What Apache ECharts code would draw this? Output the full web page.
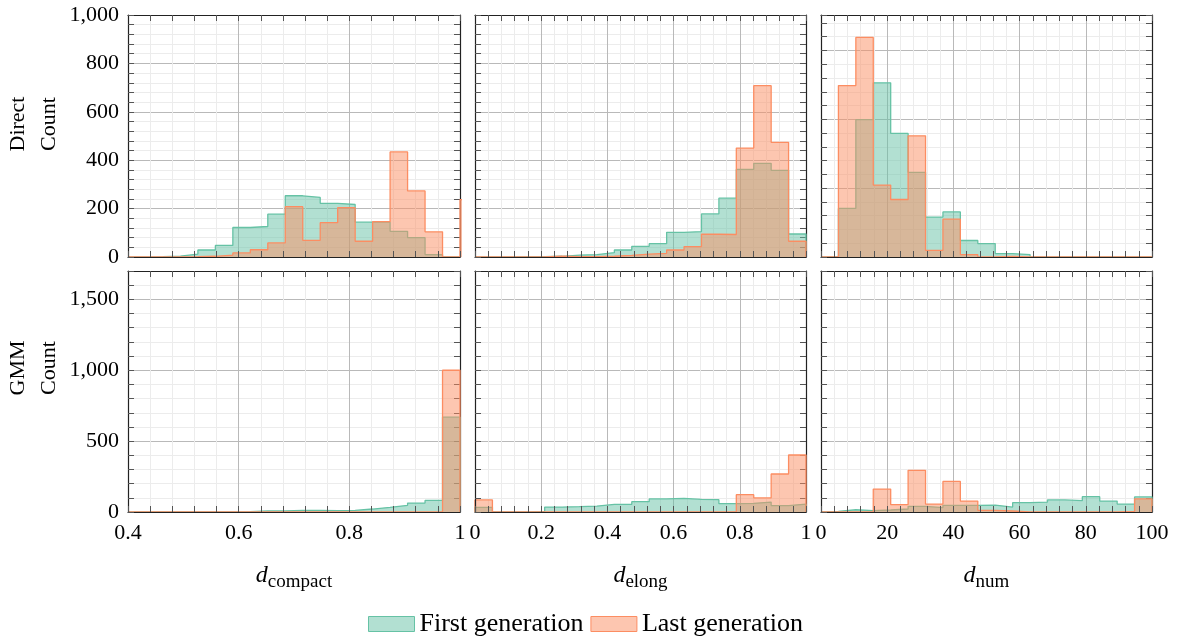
<!DOCTYPE html>
<html>
<head>
<meta charset="utf-8">
<script src="https://cdn.jsdelivr.net/npm/echarts@6/dist/echarts.min.js"></script>
<style>
  html, body { margin: 0; padding: 0; background: #fff; }
  #chart { width: 1178px; height: 641px; }
</style>
</head>
<body>
<div id="chart"></div>
<script>
// Each histogram uses 19 equal-width bins spread over its panel's x range.
const binCount = 19;
const compactRange = [0.4, 1.0];
const elongRange = [0, 1];
const numRange = [0, 100];

// Direct encoding, bin counts (the compact "last" series has one extra bin past 1.0)
const directCompactFirst = [0, 1, 4, 12, 29, 48, 122, 126, 177, 253, 246, 222, 217, 144, 144, 106, 80, 10, 0];
const directCompactLast  = [0, 0, 0, 1, 3, 8, 17, 30, 58, 208, 69, 142, 204, 65, 146, 434, 273, 104, 0, 237];
const directElongFirst   = [0, 0, 1, 1, 3, 8, 10, 18, 29, 44, 55, 102, 105, 178, 243, 362, 387, 358, 95];
const directElongLast    = [0, 0, 0, 0, 3, 1, 1, 3, 7, 12, 15, 29, 43, 94, 93, 450, 708, 474, 65];
const directNumFirst     = [0, 141, 399, 506, 359, 246, 116, 131, 48, 39, 10, 7, 0, 0, 0, 0, 0, 0, 0];
const directNumLast      = [0, 498, 638, 209, 167, 352, 19, 110, 7, 0, 2, 0, 0, 0, 0, 0, 0, 0, 0];

// GMM encoding, bin counts
const gmmCompactFirst = [0, 0, 0, 0, 0, 0, 2, 7, 7, 12, 12, 9, 12, 21, 33, 47, 63, 82, 669];
const gmmCompactLast  = [0, 0, 0, 0, 0, 0, 0, 0, 0, 0, 0, 0, 0, 0, 0, 0, 0, 0, 1000];
const gmmElongFirst   = [33, 0, 0, 5, 35, 38, 42, 54, 54, 73, 92, 96, 89, 87, 59, 61, 70, 45, 56];
const gmmElongLast    = [85, 0, 0, 0, 0, 0, 0, 0, 0, 0, 0, 0, 0, 0, 2, 122, 99, 268, 402];
const gmmNumFirst     = [5, 16, 9, 14, 21, 40, 31, 47, 47, 49, 35, 66, 70, 85, 80, 108, 77, 56, 106];
const gmmNumLast      = [0, 0, 0, 162, 52, 294, 56, 216, 77, 12, 7, 0, 0, 0, 0, 0, 0, 5, 92];

// Axis ticks: [major step, minor step]
const compactTicks = [0.2, 0.04];
const elongTicks = [0.2, 0.04];
const numTicks = [20, 4];
const directCountTicks = [200, 40];
const directNumCountTicks = [200, 40];
const gmmCountTicks = [500, 100];
const directCountMax = 1000;
const directNumCountMax = 703;
const gmmCountMax = 1700;

const seriesNames = ['First generation', 'Last generation'];
const lineColors = ['#66c2a5', '#fc8d62'];
const fillColors = ['rgba(102,194,165,0.5)', 'rgba(252,141,98,0.5)'];

const FONT = '"Liberation Serif", "Times New Roman", serif';

const colLeft = [128, 475, 821];
const colWidth = [332, 331, 331];
const rowTop = [15, 271];
const rowHeight = [242, 241];

const panels = [
  { row: 0, col: 0, range: compactRange, xt: compactTicks, yt: directCountTicks, ymax: directCountMax, first: directCompactFirst, last: directCompactLast },
  { row: 0, col: 1, range: elongRange,   xt: elongTicks,   yt: directCountTicks, ymax: directCountMax, first: directElongFirst,   last: directElongLast },
  { row: 0, col: 2, range: numRange,     xt: numTicks,     yt: directNumCountTicks, ymax: directNumCountMax, first: directNumFirst, last: directNumLast },
  { row: 1, col: 0, range: compactRange, xt: compactTicks, yt: gmmCountTicks, ymax: gmmCountMax, first: gmmCompactFirst, last: gmmCompactLast, title: 'compact' },
  { row: 1, col: 1, range: elongRange,   xt: elongTicks,   yt: gmmCountTicks, ymax: gmmCountMax, first: gmmElongFirst,   last: gmmElongLast, title: 'elong' },
  { row: 1, col: 2, range: numRange,     xt: numTicks,     yt: gmmCountTicks, ymax: gmmCountMax, first: gmmNumFirst,     last: gmmNumLast, title: 'num' }
];

const isMajor = (v, step) => Math.abs(v / step - Math.round(v / step)) < 1e-6;
const gridColors = ['#b9b9b9', '#ececec', '#ececec', '#ececec', '#ececec'];

// Step outline of a histogram: rise at the first edge, a flat top per bin, drop at the last edge.
function histPoints(range, counts) {
  const w = (range[1] - range[0]) / binCount;
  const pts = [[range[0], 0]];
  counts.forEach((c, i) => pts.push([range[0] + i * w, c]));
  pts.push([range[0] + counts.length * w, 0]);
  return pts;
}

const grid = [], xAxis = [], yAxis = [], series = [];
const tickStyle = { show: true, inside: true, length: 6, lineStyle: { color: '#555', width: 1 } };
const boxLine = { show: true, onZero: false, lineStyle: { color: '#222', width: 1.2 } };

panels.forEach((p, i) => {
  grid.push({ left: colLeft[p.col], top: rowTop[p.row], width: colWidth[p.col], height: rowHeight[p.row], containLabel: false });
  const [xMajor, xMinor] = p.xt;
  const [yMajor, yMinor] = p.yt;
  const showX = p.row === 1;
  const showY = p.col === 0;
  // bottom axis: frame, ticks, labels, title
  xAxis.push({
    type: 'value', gridIndex: i, position: 'bottom', min: p.range[0], max: p.range[1], interval: xMinor, z: 4,
    axisLine: boxLine, axisTick: Object.assign({ interval: 0 }, tickStyle), splitLine: { show: false },
    axisLabel: {
      show: showX, interval: 0, showMinLabel: true, showMaxLabel: true, margin: 10,
      fontFamily: FONT, fontSize: 22, color: '#000',
      formatter: v => isMajor(v, xMajor) ? String(+v.toFixed(2)) : ''
    },
    name: p.title ? '{d|d}{s|' + p.title + '}' : '',
    nameLocation: 'middle', nameGap: 53,
    nameTextStyle: {
      rich: {
        d: { fontFamily: FONT, fontStyle: 'italic', fontSize: 24, lineHeight: 27, verticalAlign: 'bottom', padding: [0, 0, 4, 0], color: '#000' },
        s: { fontFamily: FONT, fontSize: 19, lineHeight: 20, verticalAlign: 'bottom', color: '#000' }
      }
    }
  });
  // top axis: frame, ticks, vertical grid lines
  xAxis.push({
    type: 'value', gridIndex: i, position: 'top', min: p.range[0], max: p.range[1], interval: xMinor, z: 0,
    axisLine: boxLine, axisTick: Object.assign({ interval: 0 }, tickStyle), axisLabel: { show: false },
    splitLine: { show: true, interval: 0, lineStyle: { color: gridColors, width: 1 } }
  });
  // left axis: frame, ticks, labels
  yAxis.push({
    type: 'value', gridIndex: i, position: 'left', min: 0, max: p.ymax, interval: yMinor, z: 4,
    axisLine: boxLine, axisTick: Object.assign({ interval: 0 }, tickStyle), splitLine: { show: false },
    axisLabel: {
      show: showY, interval: 0, showMinLabel: true, showMaxLabel: true, margin: 9,
      fontFamily: FONT, fontSize: 22, color: '#000',
      formatter: v => isMajor(v, yMajor) ? v.toLocaleString('en-US') : ''
    }
  });
  // right axis: frame, ticks, horizontal grid lines
  yAxis.push({
    type: 'value', gridIndex: i, position: 'right', min: 0, max: p.ymax, interval: yMinor, z: 0,
    axisLine: boxLine, axisTick: Object.assign({ interval: 0 }, tickStyle), axisLabel: { show: false },
    splitLine: { show: true, interval: 0, lineStyle: { color: gridColors, width: 1 } }
  });
  [p.first, p.last].forEach((counts, k) => {
    series.push({
      name: seriesNames[k], type: 'line', step: 'end',
      xAxisIndex: 2 * i, yAxisIndex: 2 * i,
      data: histPoints(p.range, counts),
      showSymbol: false, symbol: 'none', clip: true, z: 2 + k,
      lineStyle: { color: lineColors[k], width: 1.3 },
      itemStyle: { color: lineColors[k] },
      areaStyle: { color: fillColors[k], opacity: 1 },
      emphasis: { disabled: true }
    });
  });
});

const chart = echarts.init(document.getElementById('chart'), null, { renderer: 'canvas' });
chart.setOption({
  animation: false,
  backgroundColor: '#fff',
  grid, xAxis, yAxis, series,
  legend: {
    top: 606, left: 363, icon: 'rect', itemWidth: 46, itemHeight: 15, itemGap: 7,
    selectedMode: false,
    textStyle: { fontFamily: FONT, fontSize: 26, color: '#000' },
    data: seriesNames.map((n, k) => ({
      name: n, itemStyle: { color: fillColors[k], borderColor: lineColors[k], borderWidth: 1 }
    }))
  },
  graphic: [
    { type: 'text', x: 34, y: 124, rotation: Math.PI / 2,
      style: { text: 'Direct\nCount', font: '22px ' + FONT, fill: '#000', align: 'center', verticalAlign: 'middle', lineHeight: 31 } },
    { type: 'text', x: 34, y: 368, rotation: Math.PI / 2,
      style: { text: 'GMM\nCount', font: '22px ' + FONT, fill: '#000', align: 'center', verticalAlign: 'middle', lineHeight: 31 } }
  ]
});
</script>
</body>
</html>
